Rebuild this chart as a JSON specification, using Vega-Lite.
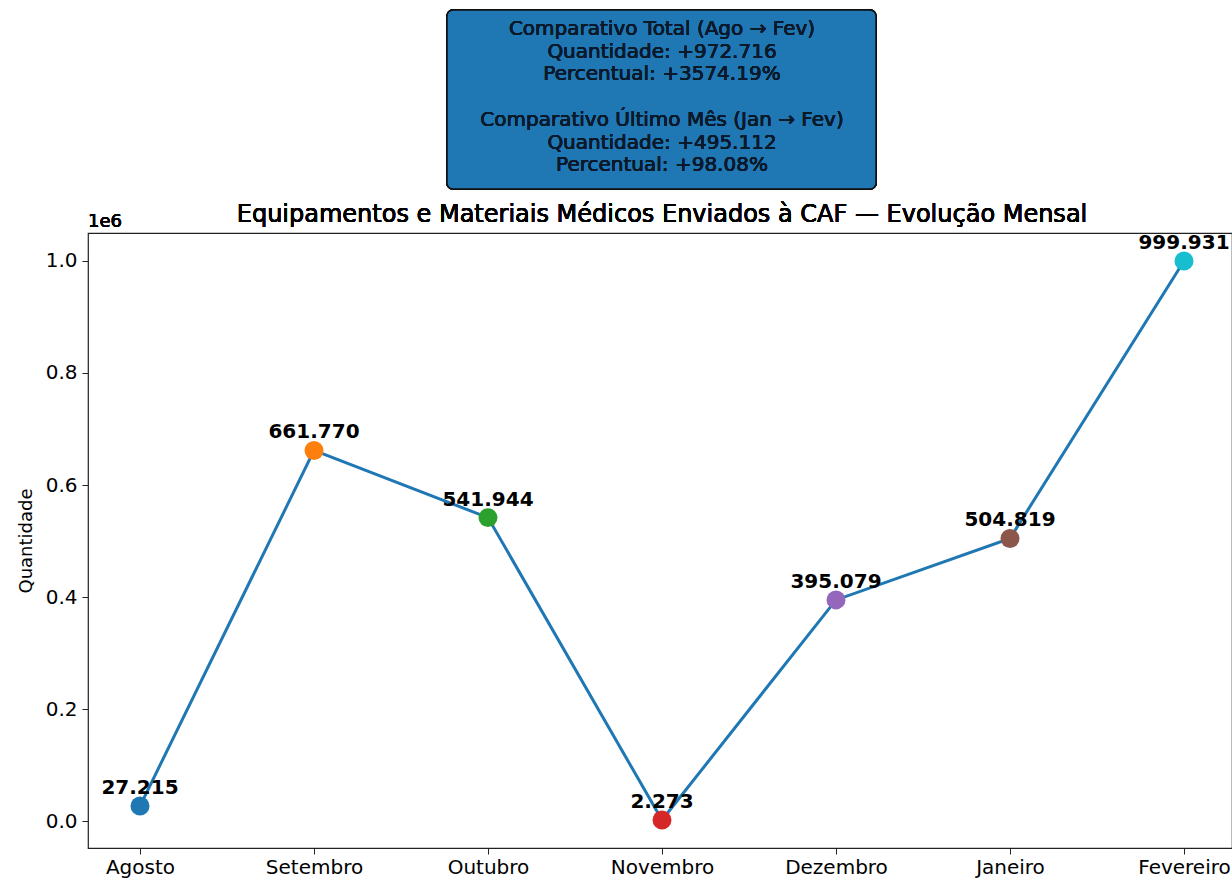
{
  "$schema": "https://vega.github.io/schema/vega-lite/v6.json",
  "width": 1144,
  "height": 615,
  "autosize": {"type": "none"},
  "padding": {"left": 88, "top": 233, "right": 0, "bottom": 33},
  "background": "white",
  "config": {
    "font": "DejaVu Sans",
    "view": {"stroke": "#222", "strokeWidth": 1.2}
  },
  "data": {
    "values": [
      {"mes": "Agosto", "quantidade": 27215},
      {"mes": "Setembro", "quantidade": 661770},
      {"mes": "Outubro", "quantidade": 541944},
      {"mes": "Novembro", "quantidade": 2273},
      {"mes": "Dezembro", "quantidade": 395079},
      {"mes": "Janeiro", "quantidade": 504819},
      {"mes": "Fevereiro", "quantidade": 999931}
    ]
  },
  "transform": [
    {"calculate": "replace(format(datum.quantidade, ','), ',', '.')", "as": "rotulo"}
  ],
  "encoding": {
    "x": {
      "field": "mes",
      "type": "ordinal",
      "scale": {
        "type": "point",
        "domain": ["Agosto", "Setembro", "Outubro", "Novembro", "Dezembro", "Janeiro", "Fevereiro"],
        "range": [52, 1096],
        "padding": 0
      },
      "axis": {
        "title": null,
        "labelAngle": 0,
        "labelFontSize": 20,
        "labelColor": "#000",
        "labelPadding": 3,
        "tickColor": "#222",
        "tickSize": 6,
        "domain": false,
        "grid": false
      }
    },
    "y": {
      "field": "quantidade",
      "type": "quantitative",
      "scale": {"domain": [-47610, 1049814], "nice": false, "zero": false},
      "axis": {
        "title": "Quantidade",
        "titleFontSize": 18,
        "titleFontWeight": "normal",
        "titleColor": "#000",
        "titlePadding": 10,
        "values": [0, 200000, 400000, 600000, 800000, 1000000],
        "labelExpr": "format(datum.value / 1000000, '.1f')",
        "labelFontSize": 20,
        "labelColor": "#000",
        "labelPadding": 5,
        "tickColor": "#222",
        "tickSize": 6,
        "domain": false,
        "grid": false
      }
    }
  },
  "layer": [
    {
      "mark": {"type": "line", "color": "#1f77b4", "strokeWidth": 3}
    },
    {
      "mark": {"type": "circle", "size": 360, "opacity": 1},
      "encoding": {
        "color": {
          "field": "mes",
          "type": "nominal",
          "scale": {
            "domain": ["Agosto", "Setembro", "Outubro", "Novembro", "Dezembro", "Janeiro", "Fevereiro"],
            "range": ["#1f77b4", "#ff7f0e", "#2ca02c", "#d62728", "#9467bd", "#8c564b", "#17becf"]
          },
          "legend": null
        }
      }
    },
    {
      "mark": {"type": "text", "fontSize": 20, "fontWeight": "bold", "color": "#000", "baseline": "middle", "dy": -18},
      "encoding": {"text": {"field": "rotulo"}}
    },
    {
      "mark": {"type": "text", "text": "1e6", "fontSize": 18, "fontWeight": "normal", "color": "#000", "align": "left", "baseline": "bottom", "dx": -52, "dy": -2},
      "encoding": {
        "x": {"datum": "Agosto"},
        "y": {"datum": 1049814}
      }
    },
    {
      "mark": {"type": "text", "text": "Equipamentos e Materiais Médicos Enviados à CAF — Evolução Mensal", "fontSize": 24, "fontWeight": "normal", "color": "#000", "align": "center", "baseline": "bottom", "dy": -6},
      "encoding": {
        "x": {"datum": "Novembro"},
        "y": {"datum": 1049814}
      }
    },
    {
      "mark": {"type": "rect", "fill": "#1f77b4", "stroke": "#111", "strokeWidth": 1.5, "cornerRadius": 6, "xOffset": -41, "x2Offset": 40},
      "encoding": {
        "x": {"datum": "Outubro"},
        "x2": {"datum": "Dezembro"},
        "y": {"datum": 1447700},
        "y2": {"datum": 1128300}
      }
    },
    {
      "mark": {
        "type": "text",
        "text": [
          "Comparativo Total (Ago → Fev)",
          "Quantidade: +972.716",
          "Percentual: +3574.19%"
        ],
        "fontSize": 20,
        "fontWeight": "normal",
        "lineHeight": 22.5,
        "color": "#0b1a2b",
        "align": "center",
        "baseline": "middle"
      },
      "encoding": {
        "x": {"datum": "Novembro"},
        "y": {"datum": 1413800}
      }
    },
    {
      "mark": {
        "type": "text",
        "text": [
          "Comparativo Último Mês (Jan → Fev)",
          "Quantidade: +495.112",
          "Percentual: +98.08%"
        ],
        "fontSize": 20,
        "fontWeight": "normal",
        "lineHeight": 22.5,
        "color": "#0b1a2b",
        "align": "center",
        "baseline": "middle"
      },
      "encoding": {
        "x": {"datum": "Novembro"},
        "y": {"datum": 1251400}
      }
    }
  ]
}
